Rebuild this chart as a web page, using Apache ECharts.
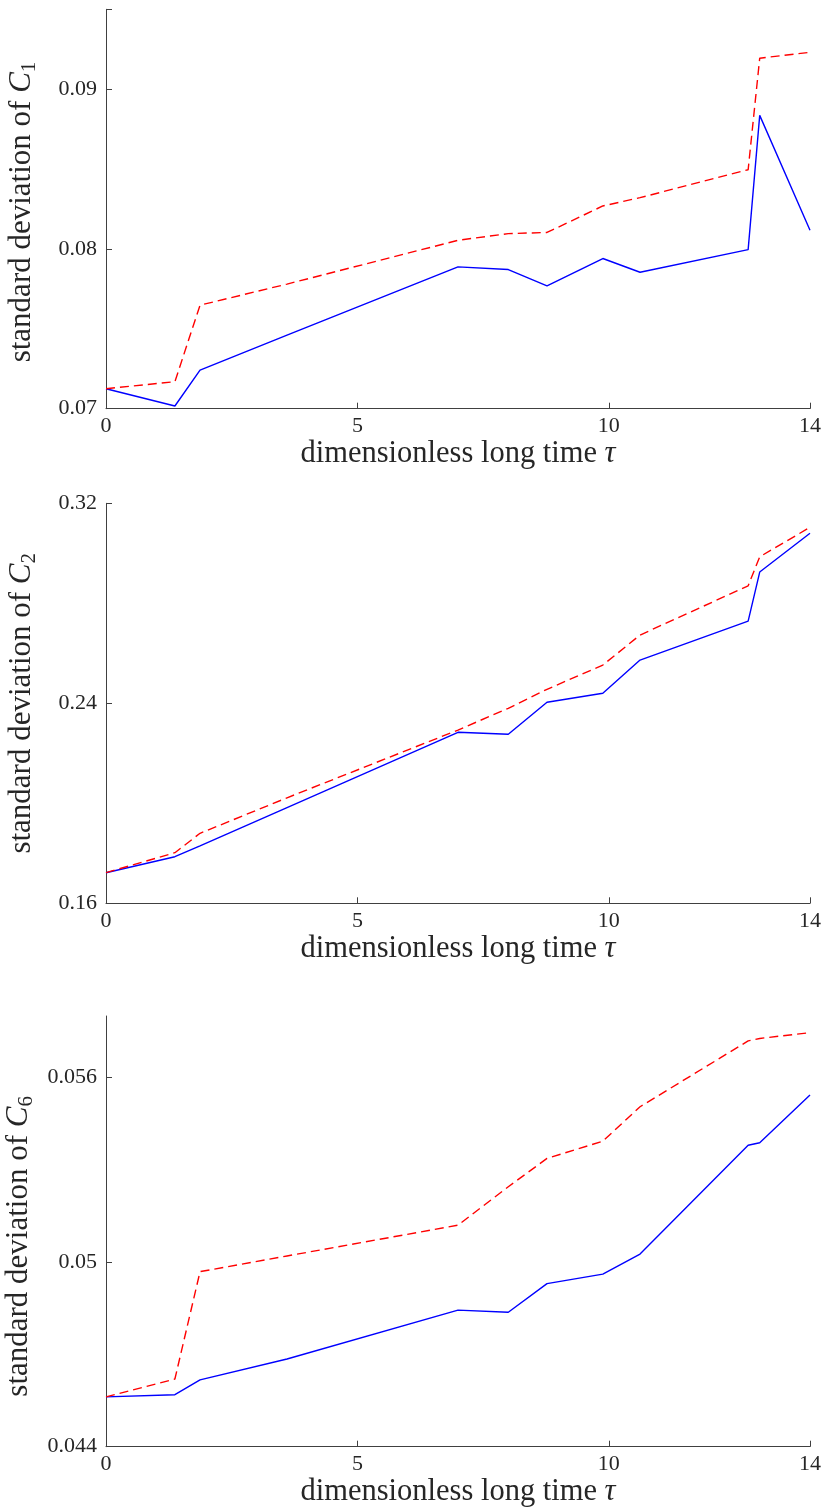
<!DOCTYPE html>
<html>
<head>
<meta charset="utf-8">
<script src="https://cdn.jsdelivr.net/npm/echarts@6/dist/echarts.min.js"></script>
<style>
html,body{margin:0;padding:0;background:#fff;}
#chart{width:826px;height:1508px;}
</style>
</head>
<body>
<div id="chart"></div>
<script>
// dimensionless long time tau (shared sample times)
var tau = [0, 1.37, 1.87, 3.6, 7.0, 8.0, 8.77, 9.88, 10.62, 12.77, 13.0, 14];

// standard deviation of C1
var c1Solid  = [0.07125, 0.07017, 0.07242, 0.0746, 0.07888, 0.07871, 0.07769, 0.0794, 0.07854, 0.07996, 0.08836, 0.08117];
var c1Dashed = [0.07125, 0.07169, 0.07648, 0.0778, 0.08054, 0.08096, 0.08103, 0.08269, 0.08321, 0.08496, 0.09194, 0.09231];

// standard deviation of C2
var c2Solid  = [0.17224, 0.17864, 0.1830, 0.1983, 0.2284, 0.2276, 0.2404, 0.2440, 0.2573, 0.2729, 0.2925, 0.3080];
var c2Dashed = [0.17224, 0.18024, 0.1880, 0.2022, 0.2293, 0.2380, 0.2456, 0.2553, 0.2673, 0.2870, 0.2986, 0.3104];

// standard deviation of C6
var c6Solid  = [0.04562, 0.04569, 0.04617, 0.04685, 0.04844, 0.04837, 0.0493, 0.04961, 0.05026, 0.0538, 0.05388, 0.05543];
var c6Dashed = [0.04562, 0.0462, 0.04969, 0.0502, 0.0512, 0.05245, 0.05337, 0.05393, 0.05505, 0.05719, 0.05727, 0.05746];

// tick labels
var xTicks  = [0, 5, 10, 14];
var y1Ticks = [0.07, 0.08, 0.09];
var y2Ticks = [0.16, 0.24, 0.32];
var y3Ticks = [0.044, 0.05, 0.056];

// axis ranges
var y1Range = [0.07, 0.095];
var y2Range = [0.16, 0.32];
var y3Range = [0.044, 0.058];

var FONT = 'Liberation Serif';
var TXT = '#262626';
var AX = '#404040';

function pairs(xs, ys) { return xs.map(function (x, i) { return [x, ys[i]]; }); }

function xAxis(idx) {
  return {
    type: 'value', gridIndex: idx, min: 0, max: 14,
    name: 'dimensionless long time {t|τ}', nameLocation: 'middle', nameGap: 24,
    nameTextStyle: { fontFamily: FONT, fontSize: 30.5, color: TXT,
      rich: { t: { fontFamily: FONT, fontSize: 30.5, fontStyle: 'italic', color: TXT } } },
    axisLine: { show: true, lineStyle: { color: AX, width: 1 } },
    axisTick: { show: true, inside: true, length: 6, lineStyle: { color: AX }, customValues: xTicks },
    axisLabel: { fontFamily: FONT, fontSize: 22, color: TXT, margin: 7, customValues: xTicks },
    splitLine: { show: false }
  };
}

function yAxis(idx, range, ticks, tickVals, sub, pad) {
  return {
    type: 'value', gridIndex: idx, min: range[0], max: range[1],
    name: 'standard deviation of {c|C}{s|' + sub + '}', nameLocation: 'middle', nameGap: 66,
    nameTextStyle: { fontFamily: FONT, fontSize: 31, color: TXT, padding: pad,
      rich: {
        c: { fontFamily: FONT, fontSize: 31, fontStyle: 'italic', color: TXT },
        s: { fontFamily: FONT, fontSize: 21, color: TXT, padding: [15, 0, 0, 0] }
      } },
    axisLine: { show: true, lineStyle: { color: AX, width: 1 } },
    axisTick: { show: true, inside: true, length: 6, lineStyle: { color: AX }, customValues: tickVals },
    axisLabel: { fontFamily: FONT, fontSize: 22, color: TXT, margin: 9, customValues: ticks,
      formatter: function (v) { return String(+(+v).toFixed(4)); } },
    splitLine: { show: false }
  };
}

function solid(idx, ys) {
  return { type: 'line', xAxisIndex: idx, yAxisIndex: idx, data: pairs(tau, ys), showSymbol: false,
    lineStyle: { color: '#0000ff', width: 1.4 }, itemStyle: { color: '#0000ff' }, silent: true };
}
function dashed(idx, ys) {
  return { type: 'line', xAxisIndex: idx, yAxisIndex: idx, data: pairs(tau, ys), showSymbol: false,
    lineStyle: { color: '#ff0000', width: 1.4, type: [9, 5] }, itemStyle: { color: '#ff0000' }, silent: true };
}

var chart = echarts.init(document.getElementById('chart'), null, { renderer: 'canvas' });
chart.setOption({
  animation: false,
  backgroundColor: '#fff',
  grid: [
    { left: 106, right: 16, top: 9.3, height: 399.4, containLabel: false, outerBoundsMode: 'none' },
    { left: 106, right: 16, top: 503.3, height: 400, containLabel: false, outerBoundsMode: 'none' },
    { left: 106, right: 16, top: 1016, height: 430.7, containLabel: false, outerBoundsMode: 'none' }
  ],
  xAxis: [xAxis(0), xAxis(1), xAxis(2)],
  yAxis: [
    yAxis(0, y1Range, y1Ticks, y1Ticks.concat([y1Range[1]]), '1', [0, 6, 0, 0]),
    yAxis(1, y2Range, y2Ticks, y2Ticks, '2', [0, 0, 0, 0]),
    yAxis(2, y3Range, y3Ticks, y3Ticks, '6', [0, 30, 0, 0])
  ],
  series: [
    solid(0, c1Solid), dashed(0, c1Dashed),
    solid(1, c2Solid), dashed(1, c2Dashed),
    solid(2, c6Solid), dashed(2, c6Dashed)
  ]
});
</script>
</body>
</html>
